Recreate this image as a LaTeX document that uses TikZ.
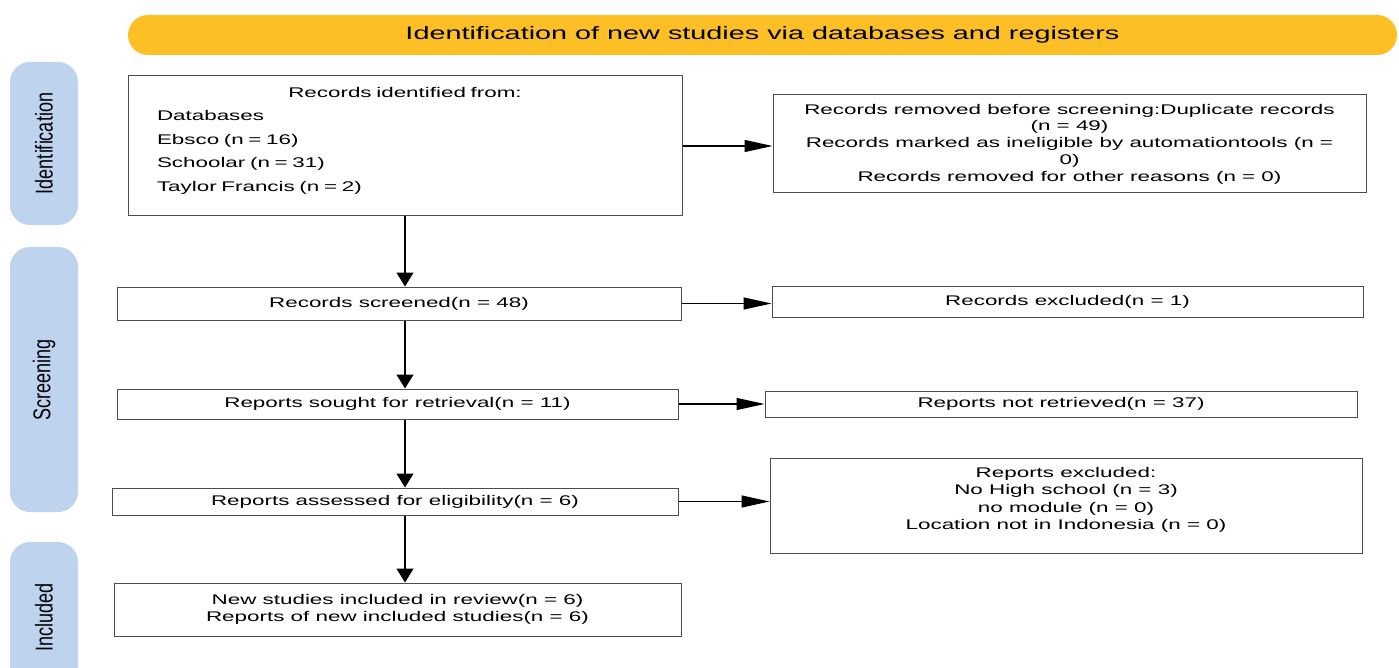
\documentclass[tikz,border=0pt]{standalone}
\usepackage{fontspec}
\usepackage{graphicx}
\setmainfont{Liberation Sans}[FakeStretch=1.6]
\newfontfamily\sidefont{Liberation Sans}
\usetikzlibrary{arrows.meta}

\begin{document}
\begin{tikzpicture}[x=1pt, y=-1pt, font=\fontsize{14}{16.7}\selectfont,
		box/.style={draw=gray!60!black, line width=1pt, inner sep=0pt, align=center},
		side/.style={fill=sideblue, rounded corners=20pt, rotate=90, inner sep=0pt,
			font=\sidefont\fontsize{18}{20}\selectfont},
		godown/.style={-{Triangle[length=14pt,width=17pt]}, line width=1.2pt},
		goright/.style={-{Triangle[length=28pt,width=12pt]}, line width=1.2pt}]
	\definecolor{bargold}{RGB}{252,191,38}
	\definecolor{sideblue}{RGB}{190,211,238}
	\useasboundingbox (0,0) rectangle (1399,668);
	
	% title bar
	\node[fill=bargold, rounded corners=20pt, minimum width=1269pt, minimum height=40pt,
		inner sep=0pt, font=\fontsize{18}{20}\selectfont] (title) at (762.5,35)
		{Identification of new studies via databases and registers};
	
	% phase labels
	\node[side, minimum width=163pt, minimum height=68pt] (phident) at (44,143.5)
		{\scalebox{1}[1.35]{Identification}};
	\node[side, minimum width=265pt, minimum height=68pt] (phscreen) at (44,379.5)
		{\scalebox{1}[1.35]{Screening}};
	\node[side, minimum width=150pt, minimum height=68pt] (phincl) at (44,617)
		{\scalebox{1}[1.35]{Included}};
	
	% left column
	\node[box, minimum width=554pt, minimum height=140pt, text width=496pt, align=left,
		font=\fontsize{14}{23.5}\selectfont] (ident) at (405,146)
		{\null\hfill Records identified from:\hfill\null\\
		Databases\\
		Ebsco (n = 16)\\
		Schoolar (n = 31)\\
		Taylor Francis (n = 2)\\[-10pt]\mbox{}};
	\node[box, minimum width=564pt, minimum height=33pt] (screen) at (399,303.5)
		{Records screened(n = 48)};
	\node[box, minimum width=561pt, minimum height=30pt] (sought) at (397.5,404)
		{Reports sought for retrieval(n = 11)};
	\node[box, minimum width=566pt, minimum height=27pt] (assess) at (395,501.5)
		{Reports assessed for eligibility(n = 6)};
	\node[box, minimum width=567pt, minimum height=53pt] (incl) at (397.5,609.5)
		{New studies included in review(n = 6)\\Reports of new included studies(n = 6)};
	
	% right column
	\node[box, minimum width=593pt, minimum height=98pt] (removed) at (1069.5,144)
		{Records removed before screening:Duplicate records\\(n = 49)\\
		Records marked as ineligible by automationtools (n =\\0)\\
		Records removed for other reasons (n = 0)};
	\node[box, minimum width=591pt, minimum height=31pt] (excl) at (1067.5,301.5)
		{Records excluded(n = 1)};
	\node[box, minimum width=592pt, minimum height=26pt] (notret) at (1061,404)
		{Reports not retrieved(n = 37)};
	\node[box, minimum width=592pt, minimum height=95pt, font=\fontsize{14}{17.5}\selectfont]
		(repexcl) at (1066,505.5)
		{Reports excluded:\\No High school (n = 3)\\no module (n = 0)\\
		Location not in Indonesia (n = 0)\\[-3pt]\mbox{}};
	
	% arrows down
	\draw[godown] (ident.south) -- (ident.south |- screen.north);
	\draw[godown] (screen.south -| ident.south) -- (ident.south |- sought.north);
	\draw[godown] (sought.south -| ident.south) -- (ident.south |- assess.north);
	\draw[godown] (assess.south -| ident.south) -- (ident.south |- incl.north);
	
	% arrows right
	\draw[goright] (ident.east) -- (ident.east -| removed.west);
	\draw[goright] (screen.east) -- (screen.east -| excl.west);
	\draw[goright] (sought.east) -- (sought.east -| notret.west);
	\draw[goright] (assess.east) -- (assess.east -| repexcl.west);
\end{tikzpicture}
\end{document}
